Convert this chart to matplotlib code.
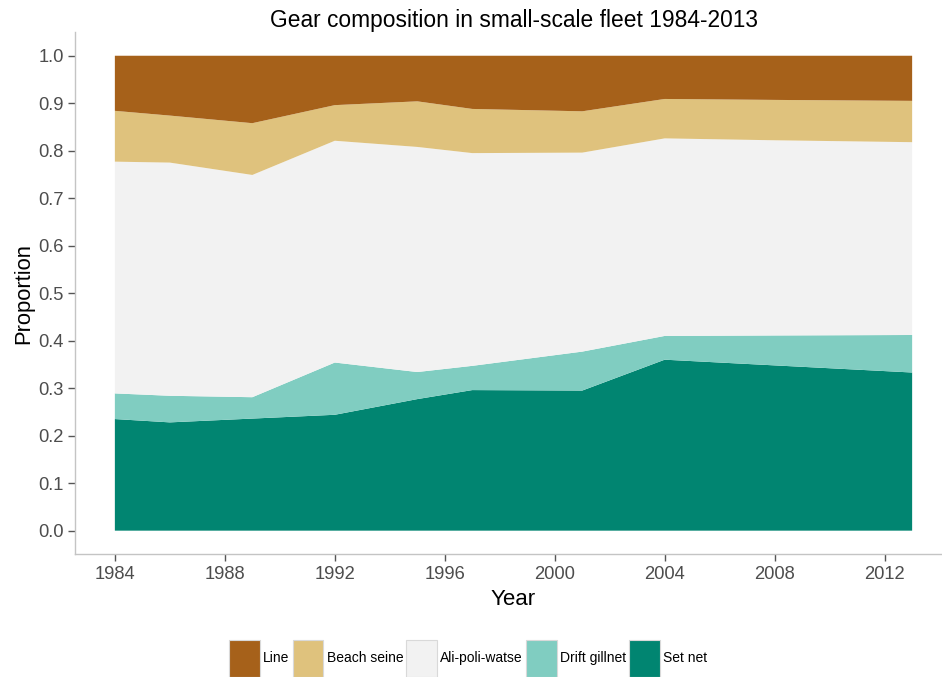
import numpy as np
import matplotlib
matplotlib.use("Agg")
from matplotlib import pyplot as plt
from matplotlib.patches import Patch

plt.rcParams["font.family"] = ["Liberation Sans", "DejaVu Sans"]

# Survey years and gear shares
years = [1984, 1986, 1989, 1992, 1995, 1997, 2001, 2004, 2008, 2013]
set_net = [0.235, 0.228, 0.236, 0.244, 0.277, 0.296, 0.295, 0.360, 0.348, 0.333]
drift_gillnet = [0.054, 0.056, 0.045, 0.110, 0.057, 0.051, 0.082, 0.050, 0.063, 0.079]
ali_poli_watse = [0.488, 0.491, 0.468, 0.467, 0.474, 0.448, 0.419, 0.416, 0.411, 0.406]
beach_seine = [0.107, 0.099, 0.109, 0.075, 0.096, 0.093, 0.087, 0.083, 0.085, 0.087]
line = [0.116, 0.126, 0.142, 0.104, 0.096, 0.112, 0.117, 0.091, 0.093, 0.095]

gears = ["Line", "Beach seine", "Ali-poli-watse", "Drift gillnet", "Set net"]
colors = ["#A6611A", "#DFC27D", "#F2F2F2", "#80CDC1", "#018571"]

# Create figure
fig = plt.figure(figsize=(9.42, 6.77), dpi=100)
ax = fig.add_axes([75 / 942, (677 - 554.4) / 677, 877 / 942, 522.4 / 677])

# Stacked areas, bottom to top
ax.stackplot(
    years,
    set_net,
    drift_gillnet,
    ali_poli_watse,
    beach_seine,
    line,
    colors=colors[::-1],
    linewidth=0,
)

# Improve plot
span = years[-1] - years[0]
ax.set_xlim(years[0] - 0.05 * span, years[-1] + 0.05 * span)
ax.set_ylim(-0.05, 1.05)
ax.set_xticks(np.arange(1984, 2013, 4))
ax.set_yticks(np.arange(0, 1.01, 0.1))
ax.yaxis.set_major_formatter(matplotlib.ticker.FormatStrFormatter("%.1f"))

for s in ["top", "right"]:
    ax.spines[s].set_visible(False)
for s in ["left", "bottom"]:
    ax.spines[s].set_color("#C4C4C4")
    ax.spines[s].set_linewidth(1.0)

ax.tick_params(
    length=5, width=1, color="#555555", labelcolor="#4D4D4D", labelsize=13.2, pad=3
)

ax.set_xlabel("Year", fontsize=16, labelpad=4.5)
ax.set_ylabel("Proportion", fontsize=15.8, labelpad=3)
ax.set_title("Gear composition in small-scale fleet 1984-2013", fontsize=16.4, pad=2.5)

# Legend at the bottom
handles = [Patch(facecolor=c, edgecolor="#D9D9D9", linewidth=0.8) for c in colors]
fig.legend(
    handles,
    gears,
    loc="center",
    bbox_to_anchor=(0.497, 18.5 / 677),
    ncol=5,
    frameon=False,
    fontsize=10,
    handlelength=2.23,
    handleheight=3.72,
    handletextpad=0.22,
    columnspacing=0.22,
    borderpad=0,
)

# Save plot
plt.savefig("out.png", dpi=100)
